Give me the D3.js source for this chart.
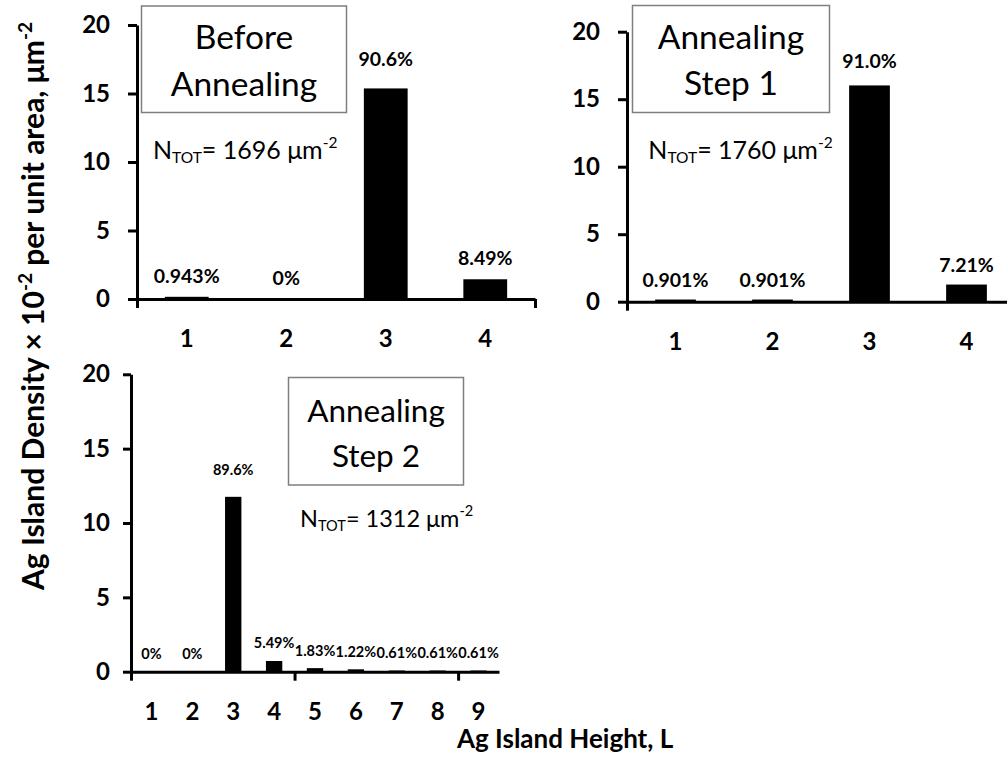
<!DOCTYPE html>
<html>
<head>
<meta charset="utf-8">
<script src="https://cdn.jsdelivr.net/npm/d3@7"></script>
<style>
  html, body { margin: 0; padding: 0; background: #fff; }
  text { font-family: Lato, "Open Sans", sans-serif; fill: #000; }
</style>
</head>
<body>
<svg id="chart" width="1007" height="759"></svg>
<script>
// Island heights (number of layers)
const heightsShort = ["1", "2", "3", "4"];
const heightsLong = ["1", "2", "3", "4", "5", "6", "7", "8", "9"];

// Island density (×10² per µm²) at each height
const densityBefore = [0.16, 0, 15.37, 1.44];
const densityStep1 = [0.16, 0.16, 16.02, 1.27];
const densityStep2 = [0, 0, 11.76, 0.72, 0.24, 0.16, 0.08, 0.08, 0.08];

// Share of all islands found at each height
const pctBefore = ["0.943%", "0%", "90.6%", "8.49%"];
const pctStep1 = ["0.901%", "0.901%", "91.0%", "7.21%"];
const pctStep2 = ["0%", "0%", "89.6%", "5.49%", "1.83%", "1.22%", "0.61%", "0.61%", "0.61%"];

// Total island density per stage (µm⁻²) and stage names
const totals = ["1696", "1760", "1312"];
const stageTitles = [["Before", "Annealing"], ["Annealing", "Step 1"], ["Annealing", "Step 2"]];

// Shared value axis
const yTicks = [0, 5, 10, 15, 20];
const yMax = 20;

const svg = d3.select("#chart");
svg.append("rect").attr("width", 1007).attr("height", 759).attr("fill", "#fff");

const tickFont = 24;

// Layout of the three histogram panels
const panels = [
  { cats: heightsShort, vals: densityBefore, pcts: pctBefore, total: totals[0], title: stageTitles[0],
    x0: 137, x1: 535, yTop: 25, yBase: 299, pad: 0.56, tickLen: 9, tickPad: 18,
    pctSize: 19.5, gap: 14, peakLift: 8,
    box: { x: 141.5, y: 6, w: 205, h: 106.5, cx: 244, lines: [49, 96], size: 33.5 },
    ntot: { x: 153, y: 159.3, size: 25 } },
  { cats: heightsShort, vals: densityStep1, pcts: pctStep1, total: totals[1], title: stageTitles[1],
    x0: 627, x1: 1015, yTop: 31.7, yBase: 301.7, pad: 0.58, tickLen: 9, tickPad: 18,
    pctSize: 19.5, gap: 13, peakLift: 4,
    box: { x: 632.5, y: 5.5, w: 197, h: 107, cx: 731, lines: [49.3, 95], size: 33.5 },
    ntot: { x: 648.3, y: 159.3, size: 25 } },
  { cats: heightsLong, vals: densityStep2, pcts: pctStep2, total: totals[2], title: stageTitles[2],
    x0: 131, x1: 499, yTop: 374.3, yBase: 671.7, pad: 0.6, tickLen: 8, tickPad: 13,
    pctSize: 14.5, gap: 12.5, peakLift: 9.5,
    box: { x: 288.5, y: 377.5, w: 175, h: 107.5, cx: 376, lines: [421.7, 467.3], size: 31.5 },
    ntot: { x: 300, y: 526.7, size: 23.5 } }
];

panels.forEach(p => {
  const g = svg.append("g");

  const x = d3.scaleBand()
    .domain(p.cats)
    .range([p.x0, p.x1])
    .paddingInner(p.pad)
    .paddingOuter(p.pad / 2);

  // category boundaries, used for the major tick marks
  const xEdge = d3.scaleLinear().domain([0, p.cats.length]).range([p.x0, p.x1]);

  const y = d3.scaleLinear().domain([0, yMax]).range([p.yBase, p.yTop]);

  const rows = p.cats.map((c, i) => ({ cat: c, v: p.vals[i], pct: p.pcts[i] }));
  const peak = d3.max(p.vals);

  // bars
  g.selectAll("rect.bar")
    .data(rows)
    .join("rect")
    .attr("class", "bar")
    .attr("x", d => x(d.cat))
    .attr("width", x.bandwidth())
    .attr("y", d => y(d.v))
    .attr("height", d => y(0) - y(d.v))
    .attr("fill", "#000");

  // percentage labels above the bars
  g.selectAll("text.pct")
    .data(rows)
    .join("text")
    .attr("class", "pct")
    .attr("x", d => x(d.cat) + x.bandwidth() / 2)
    .attr("y", d => y(d.v) - p.gap - (d.v === peak ? p.peakLift : 0))
    .attr("text-anchor", "middle")
    .style("font-weight", 700)
    .style("font-size", p.pctSize + "px")
    .text(d => d.pct);

  // value axis
  const yAxis = g.append("g")
    .attr("transform", `translate(${p.x0},0)`)
    .call(d3.axisLeft(y).tickValues(yTicks).tickSize(p.tickLen).tickSizeOuter(0).tickPadding(p.tickPad));
  yAxis.select(".domain").attr("stroke", "#000").attr("stroke-width", 3);
  yAxis.selectAll(".tick line").attr("stroke", "#000").attr("stroke-width", 3);
  yAxis.selectAll(".tick text")
    .style("font-family", "Lato, 'Open Sans', sans-serif")
    .style("font-weight", 700)
    .style("font-size", tickFont + "px")
    .attr("fill", "#000");

  // height axis: boundary tick marks every four categories
  const edgeTicks = d3.range(0, p.cats.length + 1, 4);
  const xTickAxis = g.append("g")
    .attr("transform", `translate(0,${p.yBase})`)
    .call(d3.axisBottom(xEdge).tickValues(edgeTicks).tickSize(9).tickSizeOuter(0).tickFormat(""));
  xTickAxis.select(".domain").attr("stroke", "#000").attr("stroke-width", 3);
  xTickAxis.selectAll(".tick line").attr("stroke", "#000").attr("stroke-width", 3);

  // height axis: category labels
  const xLab = g.append("g")
    .attr("transform", `translate(0,${p.yBase})`)
    .call(d3.axisBottom(x).tickSize(0));
  xLab.select(".domain").remove();
  xLab.selectAll(".tick text")
    .attr("dy", null)
    .attr("y", 48)
    .style("font-family", "Lato, 'Open Sans', sans-serif")
    .style("font-weight", 700)
    .style("font-size", tickFont + "px")
    .attr("fill", "#000");

  // stage name box
  g.append("rect")
    .attr("x", p.box.x).attr("y", p.box.y)
    .attr("width", p.box.w).attr("height", p.box.h)
    .attr("fill", "#fff")
    .attr("stroke", "#7f7f7f")
    .attr("stroke-width", 1.5);
  p.title.forEach((line, i) => {
    g.append("text")
      .attr("x", p.box.cx)
      .attr("y", p.box.lines[i])
      .attr("text-anchor", "middle")
      .style("font-size", p.box.size + "px")
      .text(line);
  });

  // total density annotation
  const sub = p.ntot.size * 0.62;
  const t = g.append("text")
    .attr("x", p.ntot.x)
    .attr("y", p.ntot.y)
    .style("font-size", p.ntot.size + "px");
  t.append("tspan").text("N");
  t.append("tspan").attr("dy", 4).style("font-size", sub + "px").text("TOT");
  t.append("tspan").attr("dy", -4).text("= " + p.total + " μm");
  t.append("tspan").attr("dy", -11).style("font-size", sub + "px").text("-2");
});

// shared axis titles
const yTitle = svg.append("text")
  .attr("transform", "translate(44,306) rotate(-90)")
  .attr("text-anchor", "middle")
  .style("font-weight", 700)
  .style("font-size", "30px");
yTitle.append("tspan").text("Ag Island Density × 10");
yTitle.append("tspan").attr("dy", -12).style("font-size", "19px").text("-2");
yTitle.append("tspan").attr("dy", 12).text(" per unit area, μm");
yTitle.append("tspan").attr("dy", -12).style("font-size", "19px").text("-2");

svg.append("text")
  .attr("x", 457)
  .attr("y", 748)
  .style("font-weight", 700)
  .style("font-size", "26px")
  .text("Ag Island Height, L");
</script>
</body>
</html>
